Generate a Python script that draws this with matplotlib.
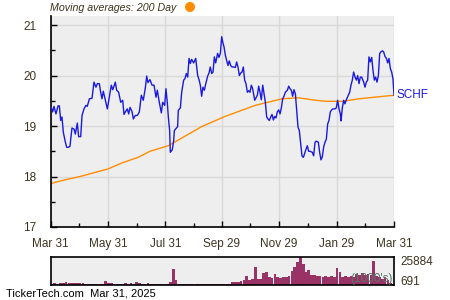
import numpy as np
import pandas as pd
import matplotlib
matplotlib.use("Agg")
import matplotlib.pyplot as plt
from matplotlib.patches import Circle

# ---------------- data ----------------
start = pd.Timestamp("2024-03-31")

price_day = [0, 2.3, 3.7, 5.8, 8.0, 9.4, 10.8, 12.2, 13.6, 15.8, 17.2, 19.3, 20.7, 22.8, 25.0, 26.4,
             28.5, 29.9, 32.1, 33.5, 35.6, 37.7, 39.1, 41.3, 44.1, 46.2, 48.3, 49.8, 51.9, 53.3, 54.7,
             56.1, 58.3, 60.4, 62.5, 64.6, 66.1, 67.5, 68.9, 70.3, 72.4, 74.6, 76.7, 78.1, 79.5, 81.6,
             83.1, 84.5, 86.6, 88.0, 90.1, 92.3, 94.4, 96.5, 98.6, 100.8, 102.2, 103.6, 105.7, 107.9,
             110.0, 112.1, 113.5, 115.6, 117.8, 119.2, 121.3, 122.7, 124.1,
             125.2, 126.6, 127.3, 129.4, 130.9, 131.6, 133.7, 135.1, 135.8, 138.0, 139.4, 141.5, 142.9,
             144.3, 145.8, 147.2, 148.6, 150.0, 152.1, 154.3, 156.4, 157.8, 159.2, 160.6, 162.0, 163.5,
             164.9, 167.0, 168.4, 169.8, 171.3, 172.7, 174.1, 175.5, 177.6, 179.0, 180.5, 181.9, 183.3,
             184.4, 185.8, 187.2, 188.6, 190.0, 191.4, 192.9, 195.0, 196.4, 197.8, 199.2, 200.7, 202.1,
             203.5, 204.9, 206.3, 207.7, 209.2, 210.6, 212.0, 213.4, 214.8, 217.0, 218.4, 219.8, 221.2,
             222.6, 224.0, 225.5, 226.9, 228.3, 229.7, 231.1, 232.5, 234.0, 235.4, 236.8, 238.2, 239.6,
             241.0, 242.5, 243.9, 245.3, 246.7, 248.1, 249.5, 251.7, 253.1, 254.5, 255.9, 257.3, 258.7,
             260.2, 261.6, 263.0, 264.4, 265.8, 267.2, 268.7, 270.1, 271.5, 272.9, 274.3, 275.7,
             278.2, 279.6, 281.1, 282.5, 284.6, 286.0, 287.4, 288.8, 290.3, 291.7, 293.1, 294.5, 295.9,
             297.3, 298.8, 300.2, 302.3, 303.7, 305.1, 306.6, 308.0, 308.7, 310.1, 311.5, 312.9, 314.3,
             316.5, 317.9, 319.3, 320.7, 322.1, 323.6, 325.0, 326.4, 327.8, 329.2, 330.6, 332.8, 334.2,
             335.6, 337.0, 338.4, 339.9, 341.3, 342.7, 344.1, 345.5, 346.9, 348.4, 349.8, 351.2, 352.6,
             354.0, 355.4, 356.9, 358.3, 359.7, 361.1, 362.5, 363.9, 365.0]

price = [19.41, 19.28, 19.39, 19.24, 19.40, 19.40, 19.11, 19.18, 18.88, 18.68, 18.58, 18.58, 18.60,
         18.96, 18.94, 18.84, 19.06, 18.79, 18.79, 19.21, 19.34, 19.41, 19.39, 19.54, 19.55, 19.87,
         19.77, 19.84, 19.84, 19.67, 19.54, 19.69, 19.51, 19.34, 19.57, 19.81, 19.72, 19.79, 19.87,
         19.71, 19.67, 19.47, 19.51, 19.23, 19.28, 19.34, 19.24, 19.37, 19.29, 19.14, 19.21, 19.21,
         19.28, 19.61, 19.51, 19.76, 19.99, 19.86, 19.92, 19.81, 19.81, 19.57, 19.71, 19.47, 19.26,
         19.47, 19.41, 19.74, 19.47,
         19.18, 18.91, 18.48, 18.53, 18.71, 18.91, 18.96, 18.99, 19.31, 19.36, 19.67, 19.91, 19.94,
         20.04, 19.97, 20.34, 20.24, 20.32, 20.25, 20.34, 20.00, 19.92, 19.81, 19.59, 19.77, 19.71,
         19.83, 19.99, 20.05, 20.17, 20.04, 20.07, 20.37, 20.25, 20.44, 20.36, 20.44, 20.77, 20.64,
         20.57, 20.40, 20.30, 20.20, 20.29, 20.20, 20.17, 20.17, 20.16, 20.27, 20.17, 20.00, 20.05,
         20.07, 20.17, 19.91, 19.84, 19.67, 19.70, 19.67, 19.81, 19.74, 19.51, 19.56, 19.61, 19.79,
         19.67, 19.52, 19.81, 19.64, 19.47, 19.18, 19.14, 19.11, 19.18, 19.23, 19.12, 19.19, 19.16,
         19.28, 19.32, 19.24, 19.36, 19.54, 19.59, 19.67, 19.71, 19.79, 19.74, 19.71, 19.59, 19.72,
         19.64, 19.31, 18.98, 18.91, 18.65, 18.41, 18.38, 18.46, 18.54, 18.61, 18.50, 18.50,
         18.48, 18.41, 18.68, 18.70, 18.68, 18.48, 18.33, 18.39, 18.59, 18.68, 18.74, 19.04, 19.11,
         19.28, 19.32, 19.34, 19.34, 19.36, 19.51, 19.34, 19.24, 19.10, 19.36, 19.51, 19.44, 19.52,
         19.61, 19.67, 19.81, 19.91, 20.07, 19.97, 19.91, 20.00, 19.84, 19.97, 19.97, 19.87, 19.77,
         19.87, 19.91, 20.37, 20.27, 20.36, 20.10, 19.91, 19.97, 19.87, 20.00, 20.44, 20.47, 20.49,
         20.47, 20.38, 20.34, 20.25, 20.34, 20.14, 20.07, 19.94, 19.61]

ma_day = [0, 14.3, 31.3, 61.1, 76, 93, 105.7, 125.2, 143, 160.7, 185.4, 217.6, 246, 263.7,
          277.9, 292.4, 310.1, 327.8, 365]
ma200 = [17.86, 17.93, 18.00, 18.15, 18.27, 18.38, 18.50, 18.61, 18.80, 18.99, 19.19, 19.41,
         19.54, 19.56, 19.52, 19.49, 19.49, 19.54, 19.61]

volume = [1200, 1500, 1200, 1700, 1500, 3000, 2200, 1800, 1700, 1400, 1600, 1800, 900, 800, 900,
          800, 800, 900, 1000, 3700, 2200, 1800, 800, 700, 700, 800, 1500, 900, 1800, 1000, 2800,
          1400, 900, 800, 1600, 900, 800, 800, 900, 800, 800, 1200, 2800, 15000, 4600, 1000, 900,
          900, 700, 1000, 900, 900, 900, 900, 900, 900, 900, 900, 700, 700, 1000,
          800, 900, 1000, 3100, 3000, 3200, 3500, 4500, 8300, 5000, 5500, 17000, 5500, 6000, 11500,
          12000, 7000, 6500, 10500, 7000, 6500, 7000, 7500, 8000, 13000, 17000, 21000, 25884, 20000,
          12000, 14000, 9000, 9500, 8000, 8500, 7500, 8000, 7500, 8000, 7500, 16000, 12000, 7000,
          8000, 7500, 8500, 7500, 10000, 9000, 11000, 9000, 10000, 9000, 22000, 8000, 7000, 6000,
          7000, 5000, 1500, 1000]
vol_step_days = 3

tick_dates = ["2024-03-31", "2024-05-31", "2024-07-31", "2024-09-29", "2024-11-29",
              "2025-01-29", "2025-03-31"]
tick_labels = ["Mar 31", "May 31", "Jul 31", "Sep 29", "Nov 29", "Jan 29", "Mar 31"]
y_ticks = [17, 18, 19, 20, 21]

# ---------------- style ----------------
TXT = "#3d3320"
BG = "#eeeeee"
GRID = "#d9d9d9"
BLUE = "#1a1adf"
ORANGE = "#ff8c00"
VOL = "#993366"

plt.rcParams["font.family"] = ["Liberation Sans", "DejaVu Sans"]

fig = plt.figure(figsize=(4.5, 3.0), dpi=100)
ax = fig.add_axes([50.5 / 450, 1 - 227 / 300, (394 - 50.5) / 450, (227 - 16) / 300])
axv = fig.add_axes([50.5 / 450, 1 - 285 / 300, (394 - 50.5) / 450, (285 - 256.7) / 300])

pdates = start + pd.to_timedelta(price_day, unit="D")
mdts = start + pd.to_timedelta(ma_day, unit="D")
ax.set_facecolor(BG)
ax.plot(pdates, price, color=BLUE, lw=1.0, zorder=3)
ax.plot(mdts, ma200, color=ORANGE, lw=1.0, zorder=2)

xmin = pd.Timestamp(tick_dates[0])
xmax = pd.Timestamp(tick_dates[-1])
ax.set_xlim(xmin, xmax)
ax.set_ylim(17, 21.18)
tdt = pd.to_datetime(tick_dates)
ax.set_xticks(tdt)
ax.set_xticklabels(tick_labels)
minor = [tdt[i] + (tdt[i + 1] - tdt[i]) / 2 for i in range(len(tdt) - 1)]
ax.set_xticks(minor, minor=True)
ax.set_yticks(y_ticks)
ax.set_yticks([17.5, 18.5, 19.5, 20.5], minor=True)
ax.grid(True, which="major", color=GRID, lw=1.0, zorder=0)
ax.tick_params(axis="both", which="major", direction="in", length=4, width=1,
               colors="black", labelcolor=TXT, labelsize=8.5)
ax.tick_params(axis="both", which="minor", direction="in", length=3, width=1, colors="black")
ax.tick_params(axis="x", pad=8)
ax.tick_params(axis="y", pad=10)
for s in ["top", "right"]:
    ax.spines[s].set_visible(False)
for s in ["left", "bottom"]:
    ax.spines[s].set_linewidth(1.2)

ax.text(1.008, 19.61, "SCHF", transform=ax.get_yaxis_transform(), color=BLUE,
        fontsize=8.5, va="center", ha="left")

# volume panel
vdates = start + pd.to_timedelta([i * vol_step_days + vol_step_days / 2 for i in range(len(volume))], unit="D")
axv.set_facecolor(BG)
axv.bar(vdates, volume, width=vol_step_days * 0.95, color=VOL, linewidth=0)
axv.set_xlim(xmin, xmax)
vmax = max(volume)
vmin = 691
axv.set_ylim(0, vmax * 1.02)
axv.set_xticks([])
axv.set_yticks([])
for s in axv.spines.values():
    s.set_linewidth(1.2)
axv.text(1.02, 0.82, f"{vmax}", transform=axv.transAxes, color=TXT, fontsize=8.5,
         va="center", ha="left")
axv.text(1.02, 0.12, f"{vmin}", transform=axv.transAxes, color=TXT, fontsize=8.5,
         va="center", ha="left")
axv.text(0.995, 0.22, "(1000's)", transform=axv.transAxes, color="#557766", fontsize=8.5,
         va="center", ha="right")

# header / footer
fig.text(50 / 450, 1 - 8 / 300, "Moving averages: 200 Day", color=TXT, fontsize=7.7,
         style="italic", va="center", ha="left")
fig.patches.append(Circle((190, 300 - 7), 4.3, color=ORANGE, transform=None, figure=fig))
fig.text(6 / 450, 1 - 294 / 300, "TickerTech.com  Mar 31, 2025", color="black", fontsize=8,
         va="center", ha="left")

fig.savefig("out.png", dpi=100)
